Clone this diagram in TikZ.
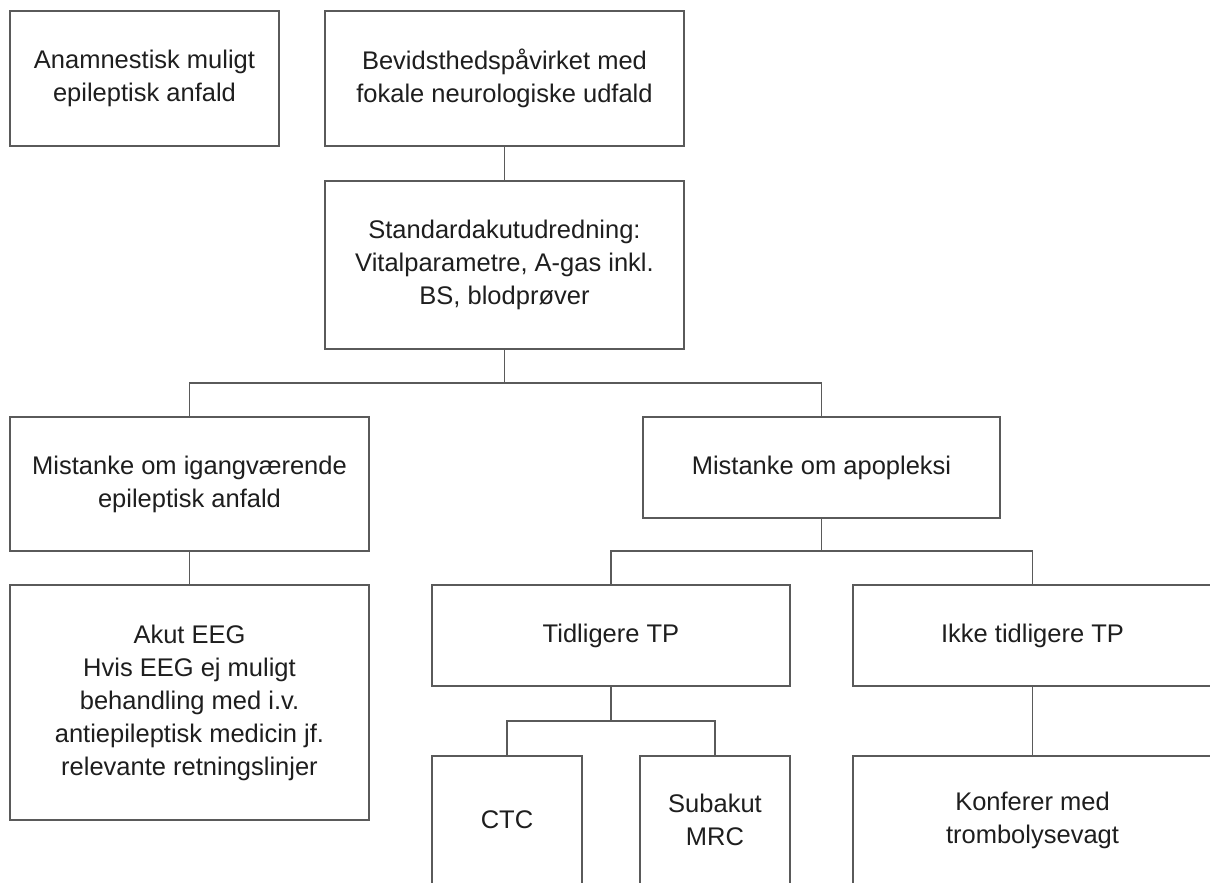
\documentclass[tikz,border=0pt]{standalone}
\usepackage{fontspec}
\setmainfont{Liberation Sans}
\definecolor{linec}{HTML}{5A5A5A}
\definecolor{textc}{HTML}{1E1E1E}
\begin{document}
\begin{tikzpicture}[x=1pt,y=-1pt,
  box/.style={draw=linec, line width=1.6pt, rectangle, inner sep=0pt, align=center,
    text=textc, font=\fontsize{25.5}{33}\selectfont},
  conn/.style={draw=linec, line width=1.6pt, line join=miter}]
\useasboundingbox (0,0) rectangle (1210,883);
\fill[white] (0,0) rectangle (1210,883);
\clip (0,0) rectangle (1210,883);
\node[box, minimum width=269pt, minimum height=135pt] (b1) at (144.5,78.5) {Anamnestisk muligt\\epileptisk anfald};
\node[box, minimum width=359pt, minimum height=135pt] (b2) at (504.5,78.5) {Bevidsthedspåvirket med\\fokale neurologiske udfald};
\node[box, minimum width=359pt, minimum height=168pt] (b3) at (504.5,265) {Standardakutudredning:\\Vitalparametre, A-gas inkl.\\BS, blodprøver};
\node[box, minimum width=359pt, minimum height=134pt] (b4) at (189.5,484) {Mistanke om igangværende\\epileptisk anfald};
\node[box, minimum width=357pt, minimum height=101pt] (b5) at (821.5,467.5) {Mistanke om apopleksi};
\node[box, minimum width=359pt, minimum height=235pt] (b8) at (189.5,702.5) {Akut EEG\\Hvis EEG ej muligt\\behandling med i.v.\\antiepileptisk medicin jf.\\relevante retningslinjer};
\node[box, minimum width=358pt, minimum height=101pt] (b6) at (611,635.5) {Tidligere TP};
\node[box, minimum width=359pt, minimum height=101pt] (b7) at (1032.5,635.5) {Ikke tidligere TP};
\node[box, minimum width=150pt, minimum height=128pt] (b9) at (507,820) {CTC};
\node[box, minimum width=150pt, minimum height=128pt] (b10) at (715,820) {Subakut\\MRC};
\node[box, minimum width=359pt, minimum height=128pt] (b11) at (1032.5,820) {Konferer med\\trombolysevagt};
\coordinate (j1) at (504.5,383);
\coordinate (j2) at (821.5,551);
\coordinate (j3) at (611,721);
\draw[conn] (b2.south) -- (b3.north);
\draw[conn] (b3.south) -- (j1) -| (b4.north);
\draw[conn] (j1) -| (b5.north);
\draw[conn] (b4.south) -- (b8.north);
\draw[conn] (b5.south) -- (j2) -| (b6.north);
\draw[conn] (j2) -| (b7.north);
\draw[conn] (b6.south) -- (j3) -| (b9.north);
\draw[conn] (j3) -| (b10.north);
\draw[conn] (b7.south) -- (b11.north);
\end{tikzpicture}
\end{document}
